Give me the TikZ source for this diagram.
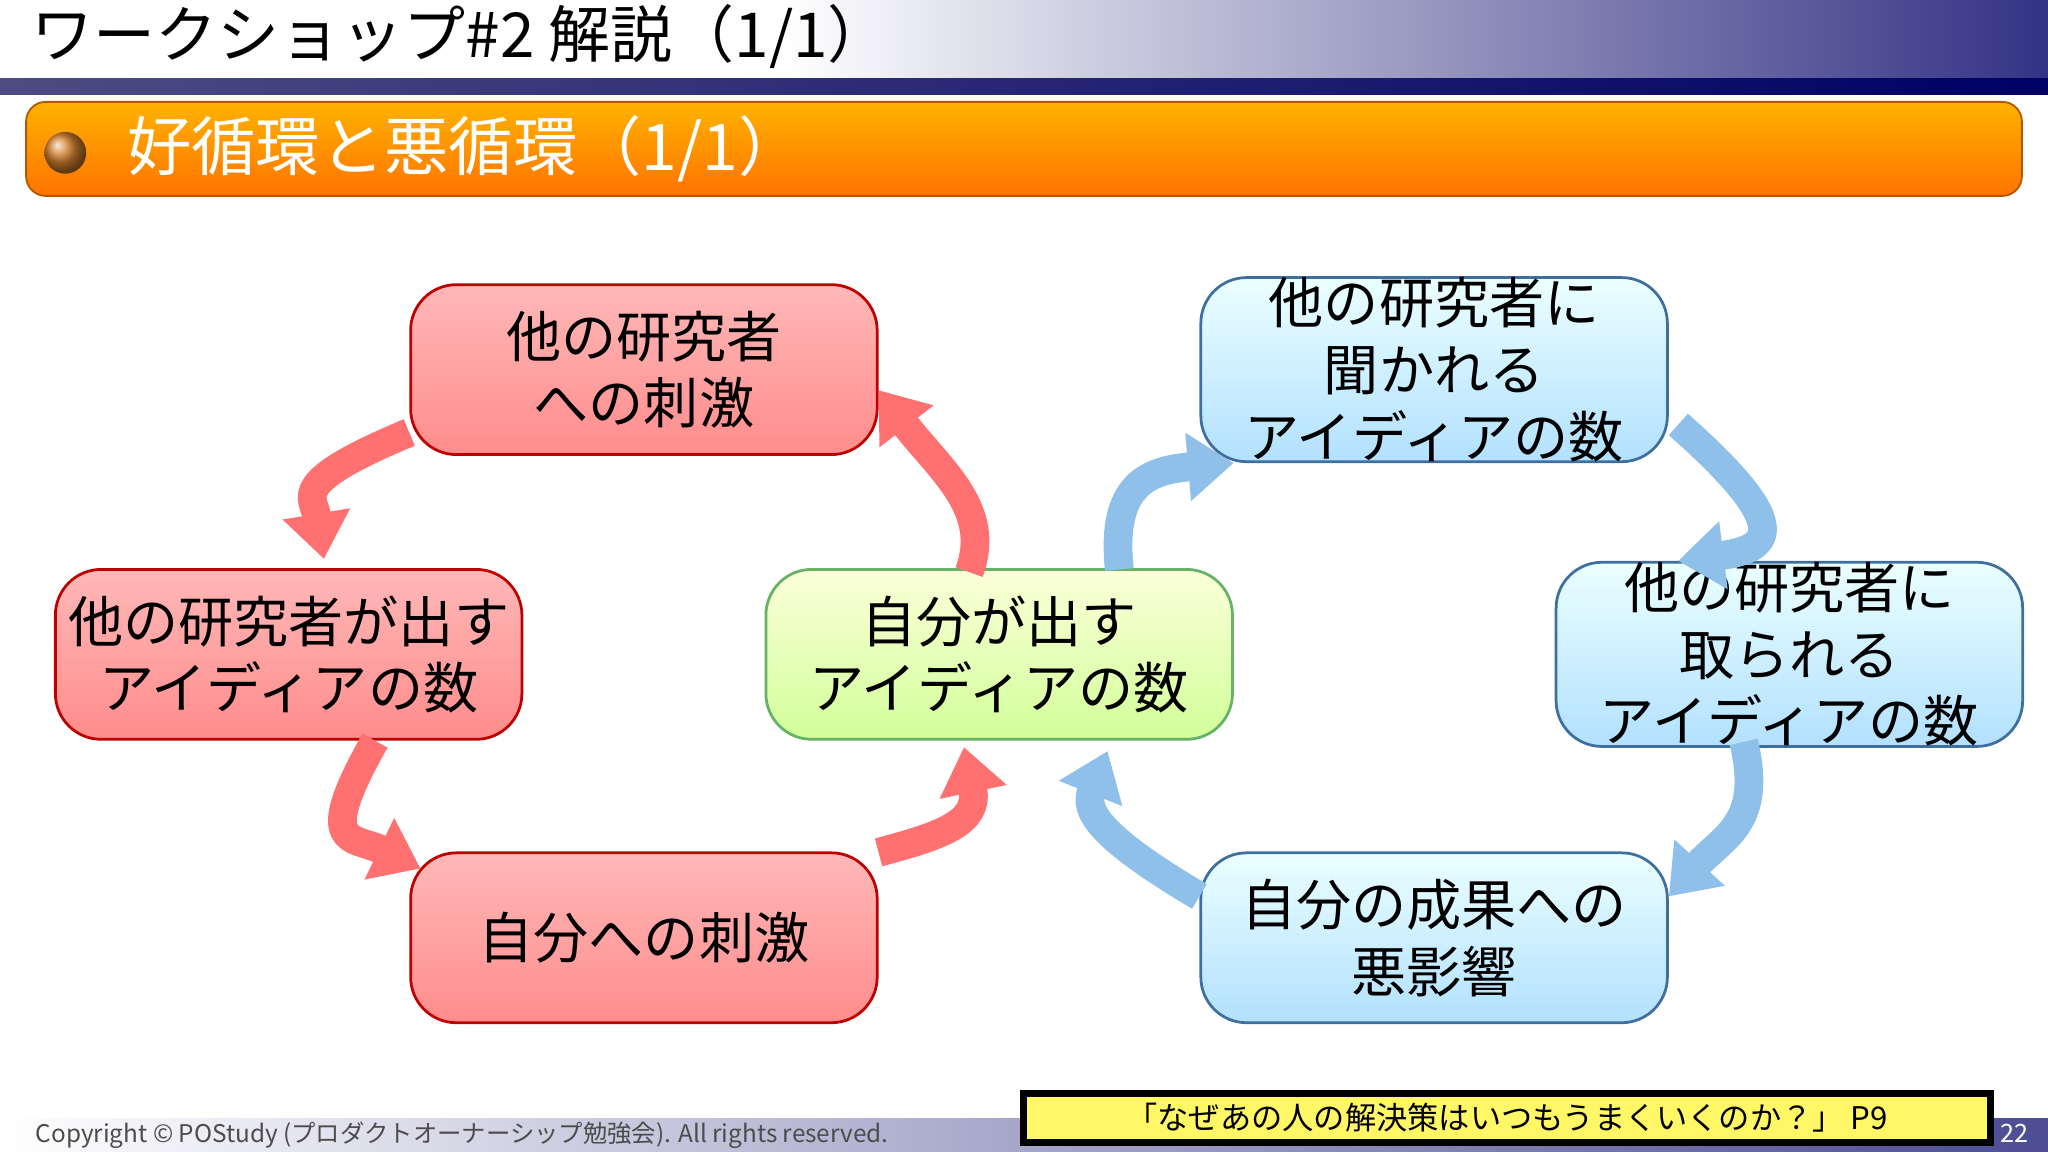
\documentclass[tikz,border=0pt]{standalone}
\usepackage{fontspec}
\setmainfont{Noto Sans CJK JP}
\usetikzlibrary{arrows.meta,shadows}
\begin{document}
\begin{tikzpicture}[x=0.01cm,y=-0.01cm,
 box/.style={rounded corners=0.35cm,minimum width=3.57cm,minimum height=1.3cm,align=center,font=\fontsize{12}{14.5}\selectfont,inner sep=0pt,line width=0.6pt},
 redbox/.style={box,draw=red!75!black,top color=red!20!pink!70,bottom color=red!45!white},
 bluebox/.style={box,draw=cyan!60!blue!70!black,top color=cyan!8!white,bottom color=cyan!60!blue!30!white},
 greenbox/.style={box,draw=green!50!black!60,top color=green!8!yellow!15,bottom color=green!45!yellow!40},
 rarr/.style={line width=0.22cm,draw=red!50!pink!90,-{Triangle[length=0.35cm,width=0.5cm]}},
 barr/.style={line width=0.22cm,draw=cyan!70!blue!45,-{Triangle[length=0.35cm,width=0.5cm]}}]
\useasboundingbox (0,0) rectangle (1568,882);
\fill[white] (0,0) rectangle (1568,882);
\shade[left color=white,right color=blue!40!black!80] (600,0) rectangle (1568,60);
\shade[left color=blue!30!black!70,right color=blue!40!black] (0,60) rectangle (1568,72);
\node[anchor=west,font=\fontsize{13.5}{15}\selectfont] (title) at (12,28) {ワークショップ\#2 解説（1/1）};
\shade[rounded corners=0.15cm,top color=orange!60!yellow,bottom color=orange!90!red,draw=orange!70!black] (20,78) rectangle (1548,150);
\shade[ball color=brown!70!orange] (50,117) circle (16);
\node[anchor=west,text=white,font=\fontsize{14}{16}\selectfont] (sub) at (85,114) {好循環と悪循環（1/1）};
\node[redbox] (A) at (493,283) {他の研究者\\への刺激};
\node[redbox] (B) at (221,501) {他の研究者が出す\\アイディアの数};
\node[redbox] (C) at (493,718) {自分への刺激};
\node[greenbox] (D) at (765,501) {自分が出す\\アイディアの数};
\node[bluebox] (E) at (1098,283) {他の研究者に\\聞かれる\\アイディアの数};
\node[bluebox] (F) at (1370,501) {他の研究者に\\取られる\\アイディアの数};
\node[bluebox] (G) at (1098,718) {自分の成果への\\悪影響};
\draw[rarr] (A.195) .. controls (220,370) and (240,380) .. (248,428);
\draw[rarr] (B.-45) .. controls (240,650) and (270,640) .. (322,665);
\draw[rarr] (C.20) .. controls (720,640) and (750,630) .. (738,572);
\draw[rarr] (742,438) .. controls (760,390) and (720,360) .. (A.-5);
\draw[barr] (857,436) .. controls (850,370) and (880,360) .. (E.205);
\draw[barr] (1285,325) .. controls (1370,400) and (1360,420) .. (F.140);
\draw[barr] (1335,568) .. controls (1350,630) and (1320,640) .. (G.10);
\draw[barr] (G.170) .. controls (840,640) and (830,620) .. (848,575);
\shade[left color=white,right color=blue!40!black!70] (0,856) rectangle (1568,882);
\node[anchor=west,text=black!70,font=\fontsize{5.3}{6}\selectfont] (copy) at (15,869) {Copyright © POStudy (プロダクトオーナーシップ勉強会). All rights reserved.};
\node[draw=black,line width=1.5pt,fill=yellow!60!white,minimum width=7.4cm,minimum height=0.37cm,inner sep=0pt,font=\fontsize{6.8}{8}\selectfont] (ref) at (1154,856) {「なぜあの人の解決策はいつもうまくいくのか？」 P9};
\node[font=\fontsize{5.5}{6}\selectfont,text=white] (pg) at (1542,868) {22};
\end{tikzpicture}
\end{document}
